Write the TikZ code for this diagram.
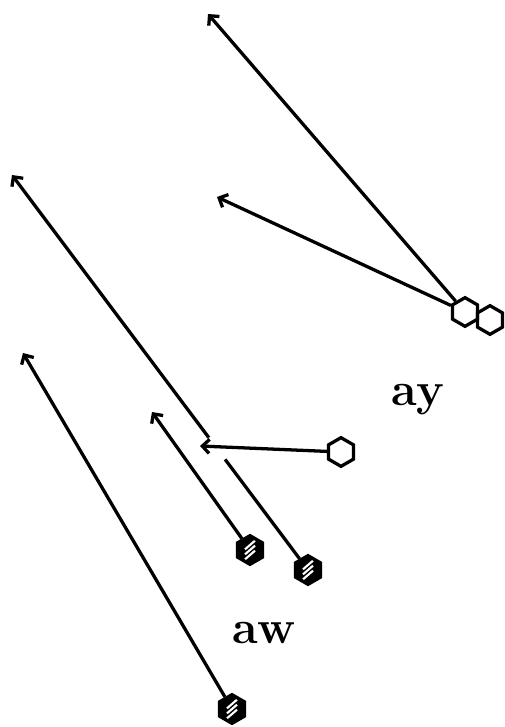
\documentclass[tikz,border=0pt]{standalone}
\usetikzlibrary{shapes.geometric,arrows.meta,calc}

\begin{document}
\begin{tikzpicture}[x=0.03cm,y=-0.03cm,line width=2.8pt,
  >={Straight Barb[length=6pt,width=12pt]}]
  \useasboundingbox (0,0) rectangle (505,727);

  \tikzset{ring/.style={regular polygon,regular polygon sides=6,shape border rotate=30,
      draw,minimum size=0.86cm,inner sep=0pt},
    bead/.style={ring,fill=black,path picture={
        \foreach \d in {-0.15,0,0.15}
          \draw[white,line width=1.8pt] ([shift={(-0.15cm,-0.13cm+\d cm)}]path picture bounding box.center)
            -- ([shift={(0.15cm,0.13cm+\d cm)}]path picture bounding box.center);}},
    tag/.style={font=\fontsize{40}{40}\bfseries\selectfont,anchor=base,inner sep=0pt}}

  \node[ring] (ya) at (465,312) {};
  \node[ring] (yb) at (490,320) {};
  \node[ring] (wc) at (341,452) {};
  \node[bead] (wa) at (250,550) {};
  \node[bead] (wb) at (308,570) {};
  \node[bead] (wd) at (232,709) {};

  \coordinate (ya-far) at (208,14);
  \coordinate (ya-near) at (217,197);
  \coordinate (wc-end) at (200,446);
  \coordinate (wa-end) at (152,412);
  \coordinate (wb-end) at (12,175);
  \coordinate (wd-end) at (23,353);

  \draw[->] (ya) -- (ya-far);
  \draw[->] (ya) -- (ya-near);
  \draw[->] (wc) -- (wc-end);
  \draw[->] (wa) -- (wa-end);
  \draw (wb) -- ($(wb)!0.28!(wb-end)$);
  \draw[->] ($(wb)!0.335!(wb-end)$) -- (wb-end);
  \draw[->] (wd) -- (wd-end);

  \node[tag] (lab-y) at (418,405) {ay};
  \node[tag] (lab-w) at (264,643) {aw};
\end{tikzpicture}
\end{document}
